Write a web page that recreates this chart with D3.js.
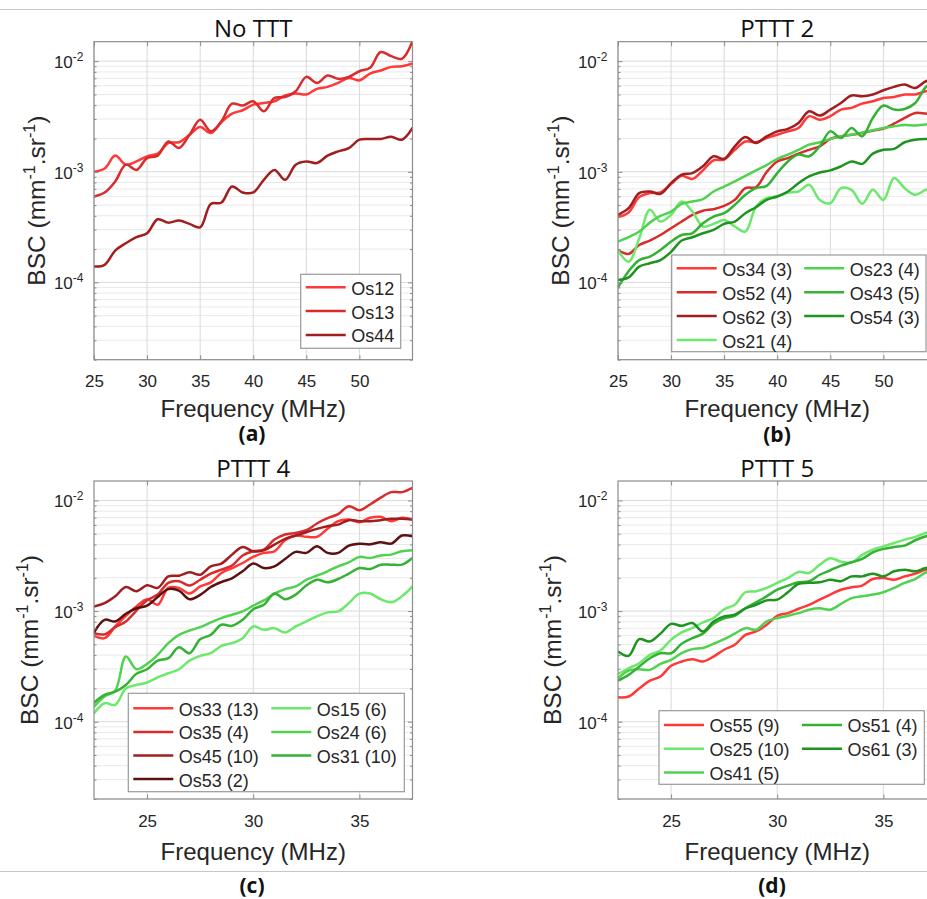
<!DOCTYPE html>
<html><head><meta charset="utf-8">
<script src="https://cdn.jsdelivr.net/npm/d3@7"></script>
<style>body{margin:0;background:#fff;}svg{display:block;}</style>
</head><body><svg id="c" width="927" height="899"></svg>
<script>
// ---------- data ----------
const freqAB = [25,26,27,28,29,30,31,32,33,34,35,36,37,38,39,40,41,42,43,44,45,46,47,48,49,50,51,52,53,54,55];
const freqCD = [22.5,23,23.5,24,24.5,25,25.5,26,26.5,27,27.5,28,28.5,29,29.5,30,30.5,31,31.5,32,32.5,33,33.5,34,34.5,35,35.5,36,36.5,37,37.5];
const xTicksAB = [25,30,35,40,45,50];
const xTicksCD = [25,30,35];
const yTicks = [1e-4,1e-3,1e-2];
const yTickExp = ["-4","-3","-2"];
const titles = ["No TTT","PTTT 2","PTTT 4","PTTT 5"];
const tags = ["(a)","(b)","(c)","(d)"];

// panel (a)
const os12 = [1.00e-3,1.07e-3,1.40e-3,1.16e-3,1.24e-3,1.38e-3,1.46e-3,1.82e-3,1.85e-3,2.16e-3,2.54e-3,2.24e-3,2.80e-3,3.36e-3,3.60e-3,4.05e-3,4.19e-3,4.34e-3,4.89e-3,5.10e-3,5.00e-3,5.62e-3,5.86e-3,6.36e-3,7.06e-3,6.71e-3,7.73e-3,8.23e-3,8.88e-3,9.01e-3,9.53e-3];
const os13 = [5.98e-4,6.49e-4,8.18e-4,1.16e-3,1.04e-3,1.33e-3,1.40e-3,1.88e-3,1.64e-3,2.16e-3,2.96e-3,2.32e-3,2.86e-3,4.13e-3,3.97e-3,4.34e-3,3.52e-3,4.65e-3,4.75e-3,5.35e-3,7.21e-3,6.36e-3,7.41e-3,6.92e-3,7.21e-3,8.11e-3,8.70e-3,1.21e-2,1.11e-2,1.05e-2,1.52e-2];
const os44 = [1.39e-4,1.44e-4,1.94e-4,2.26e-4,2.56e-4,2.78e-4,3.72e-4,3.47e-4,3.62e-4,3.38e-4,3.15e-4,5.12e-4,5.27e-4,7.36e-4,6.50e-4,6.50e-4,8.46e-4,1.04e-3,8.46e-4,1.16e-3,1.24e-3,1.20e-3,1.40e-3,1.53e-3,1.64e-3,1.95e-3,1.98e-3,1.98e-3,2.07e-3,1.95e-3,2.49e-3];

// panel (b)
const os34 = [3.89e-4,4.29e-4,5.90e-4,6.41e-4,6.50e-4,7.74e-4,9.20e-4,8.61e-4,1.03e-3,1.27e-3,1.29e-3,1.58e-3,1.88e-3,1.85e-3,2.02e-3,2.16e-3,2.32e-3,2.49e-3,3.18e-3,2.96e-3,3.18e-3,3.65e-3,3.78e-3,4.13e-3,4.34e-3,4.65e-3,4.75e-3,5.00e-3,5.00e-3,5.35e-3,5.54e-3];
const os52 = [1.96e-4,1.81e-4,2.18e-4,2.39e-4,2.68e-4,3.09e-4,3.55e-4,4.08e-4,4.45e-4,4.59e-4,4.92e-4,5.57e-4,7.11e-4,7.26e-4,9.95e-4,1.24e-3,1.33e-3,1.46e-3,1.58e-3,1.70e-3,1.98e-3,2.09e-3,2.16e-3,2.24e-3,2.35e-3,2.46e-3,2.72e-3,3.07e-3,3.40e-3,3.36e-3,3.30e-3];
const os62 = [4.08e-4,4.69e-4,6.41e-4,6.63e-4,6.32e-4,7.89e-4,9.42e-4,9.73e-4,1.12e-3,1.38e-3,1.31e-3,1.70e-3,2.06e-3,1.82e-3,2.09e-3,2.32e-3,2.44e-3,2.76e-3,3.52e-3,3.22e-3,3.65e-3,4.19e-3,4.89e-3,4.82e-3,5.00e-3,5.46e-3,5.86e-3,6.15e-3,5.73e-3,6.59e-3,6.82e-3];
const os21 = [1.96e-4,1.54e-4,2.50e-4,4.53e-4,3.55e-4,4.08e-4,5.38e-4,4.37e-4,3.20e-4,3.38e-4,3.67e-4,3.20e-4,2.88e-4,4.85e-4,5.77e-4,5.98e-4,6.50e-4,6.63e-4,7.62e-4,5.57e-4,5.20e-4,7.11e-4,6.87e-4,5.13e-4,6.87e-4,5.57e-4,8.77e-4,7.11e-4,6.19e-4,6.87e-4,7.11e-4];
const os23 = [2.34e-4,2.56e-4,2.88e-4,3.47e-4,3.99e-4,4.37e-4,5.13e-4,5.38e-4,5.66e-4,6.63e-4,7.36e-4,8.18e-4,9.20e-4,1.03e-3,1.15e-3,1.31e-3,1.43e-3,1.58e-3,1.76e-3,1.85e-3,1.98e-3,2.09e-3,2.16e-3,2.27e-3,2.37e-3,2.49e-3,2.58e-3,2.65e-3,2.62e-3,2.68e-3,2.74e-3];
const os43 = [9.01e-5,1.26e-4,1.59e-4,1.71e-4,1.96e-4,2.34e-4,2.68e-4,2.78e-4,3.43e-4,3.94e-4,4.22e-4,5.02e-4,6.19e-4,7.11e-4,7.46e-4,9.73e-4,1.24e-3,1.43e-3,1.38e-3,1.70e-3,2.32e-3,2.02e-3,2.49e-3,2.09e-3,3.07e-3,3.97e-3,3.65e-3,3.70e-3,4.19e-3,5.86e-3,6.82e-3];
const os54 = [1.05e-4,1.11e-4,1.39e-4,1.49e-4,1.59e-4,1.89e-4,2.39e-4,2.56e-4,2.78e-4,2.98e-4,3.38e-4,3.55e-4,4.22e-4,4.78e-4,5.57e-4,5.98e-4,6.63e-4,7.89e-4,9.08e-4,9.86e-4,1.03e-3,1.12e-3,1.24e-3,1.18e-3,1.46e-3,1.58e-3,1.61e-3,1.85e-3,1.95e-3,1.98e-3,1.98e-3];

// panel (c)
const os33 = [5.97e-4,5.69e-4,7.26e-4,9.07e-4,1.10e-3,1.28e-3,1.14e-3,1.62e-3,1.62e-3,1.44e-3,1.67e-3,1.82e-3,2.21e-3,2.45e-3,2.72e-3,3.09e-3,3.36e-3,3.47e-3,4.37e-3,4.82e-3,4.69e-3,4.69e-3,5.54e-3,6.50e-3,6.73e-3,6.37e-3,6.97e-3,7.12e-3,6.50e-3,6.97e-3,6.73e-3];
const os35 = [6.32e-4,6.16e-4,7.16e-4,8.06e-4,1.01e-3,1.25e-3,1.41e-3,1.80e-3,1.86e-3,1.70e-3,1.92e-3,2.18e-3,2.37e-3,2.58e-3,3.18e-3,3.47e-3,3.60e-3,4.43e-3,4.92e-3,5.09e-3,5.38e-3,6.19e-3,6.92e-3,7.52e-3,8.88e-3,8.17e-3,9.20e-3,1.06e-2,1.19e-2,1.19e-2,1.30e-2];
const os45 = [1.10e-3,1.18e-3,1.36e-3,1.65e-3,1.51e-3,1.71e-3,1.62e-3,2.06e-3,2.09e-3,2.24e-3,2.13e-3,2.54e-3,2.69e-3,3.24e-3,3.80e-3,3.47e-3,3.55e-3,3.99e-3,4.50e-3,4.82e-3,5.16e-3,5.54e-3,5.85e-3,6.05e-3,6.64e-3,6.50e-3,6.50e-3,6.64e-3,6.82e-3,6.82e-3,6.73e-3];
const os53 = [6.41e-4,8.34e-4,8.06e-4,9.45e-4,1.06e-3,1.12e-3,1.34e-3,1.58e-3,1.53e-3,1.28e-3,1.40e-3,1.65e-3,1.83e-3,1.98e-3,2.29e-3,2.69e-3,2.45e-3,2.54e-3,2.96e-3,3.43e-3,3.36e-3,3.85e-3,3.36e-3,3.36e-3,3.91e-3,4.07e-3,4.01e-3,4.19e-3,4.07e-3,4.82e-3,4.75e-3];
const os15 = [1.19e-4,1.47e-4,1.42e-4,2.00e-4,2.15e-4,2.26e-4,2.52e-4,2.74e-4,2.98e-4,3.57e-4,3.94e-4,4.16e-4,4.85e-4,5.13e-4,5.69e-4,7.26e-4,6.78e-4,7.01e-4,6.41e-4,7.26e-4,8.06e-4,8.95e-4,9.73e-4,9.93e-4,1.18e-3,1.44e-3,1.44e-3,1.28e-3,1.20e-3,1.36e-3,1.67e-3];
const os24 = [1.37e-4,1.69e-4,1.91e-4,3.88e-4,2.98e-4,3.33e-4,4.02e-4,5.13e-4,6.09e-4,6.68e-4,7.16e-4,7.89e-4,8.65e-4,9.27e-4,9.93e-4,1.12e-3,1.25e-3,1.44e-3,1.58e-3,1.67e-3,1.92e-3,2.09e-3,2.29e-3,2.54e-3,2.76e-3,3.09e-3,3.02e-3,3.18e-3,3.24e-3,3.47e-3,3.55e-3];
const os31 = [1.49e-4,1.75e-4,1.87e-4,2.15e-4,2.71e-4,2.98e-4,3.57e-4,3.75e-4,4.72e-4,4.16e-4,5.57e-4,6.09e-4,7.52e-4,7.36e-4,8.34e-4,1.04e-3,1.14e-3,1.44e-3,1.28e-3,1.41e-3,1.70e-3,1.92e-3,1.82e-3,1.95e-3,2.18e-3,2.45e-3,2.40e-3,2.62e-3,2.63e-3,2.63e-3,3.02e-3];

// panel (d)
const os55 = [1.66e-4,1.69e-4,2.00e-4,2.35e-4,2.56e-4,3.20e-4,3.50e-4,3.67e-4,3.50e-4,3.88e-4,4.47e-4,4.96e-4,6.09e-4,6.54e-4,7.52e-4,9.07e-4,9.58e-4,1.05e-3,1.14e-3,1.27e-3,1.41e-3,1.56e-3,1.64e-3,1.70e-3,1.95e-3,1.99e-3,1.92e-3,2.06e-3,2.18e-3,2.37e-3,2.45e-3];
const os25 = [2.70e-4,3.04e-4,3.38e-4,4.02e-4,4.40e-4,5.50e-4,6.41e-4,7.01e-4,7.89e-4,8.65e-4,1.04e-3,1.14e-3,1.48e-3,1.51e-3,1.62e-3,1.80e-3,1.99e-3,2.26e-3,2.21e-3,2.63e-3,3.00e-3,2.80e-3,2.76e-3,3.22e-3,3.60e-3,3.85e-3,4.13e-3,4.43e-3,4.69e-3,5.09e-3,5.38e-3];
const os41 = [2.47e-4,2.90e-4,2.98e-4,2.94e-4,3.33e-4,3.62e-4,4.16e-4,4.53e-4,4.63e-4,5.06e-4,5.57e-4,6.25e-4,7.01e-4,6.78e-4,8.06e-4,8.65e-4,9.07e-4,9.58e-4,1.03e-3,1.06e-3,1.03e-3,1.16e-3,1.31e-3,1.36e-3,1.41e-3,1.48e-3,1.62e-3,1.80e-3,1.95e-3,2.24e-3,2.45e-3];
const os51 = [2.35e-4,2.65e-4,3.15e-4,3.75e-4,4.16e-4,4.16e-4,5.06e-4,5.69e-4,6.25e-4,7.67e-4,8.58e-4,9.07e-4,1.06e-3,1.20e-3,1.36e-3,1.56e-3,1.70e-3,1.82e-3,1.86e-3,2.13e-3,2.34e-3,2.58e-3,2.76e-3,2.96e-3,3.40e-3,3.65e-3,3.80e-3,3.91e-3,4.37e-3,4.75e-3,5.02e-3];
const os61 = [4.31e-4,3.94e-4,5.57e-4,5.31e-4,6.25e-4,7.67e-4,7.36e-4,7.81e-4,6.54e-4,8.06e-4,8.95e-4,9.27e-4,1.06e-3,1.14e-3,1.25e-3,1.27e-3,1.48e-3,1.76e-3,1.80e-3,1.82e-3,1.92e-3,1.86e-3,2.06e-3,2.06e-3,2.18e-3,2.06e-3,2.29e-3,2.37e-3,2.29e-3,2.45e-3,2.49e-3];

// ---------- styles ----------
const C = {red:"#ff3838", med:"#d82b2b", dark:"#a21e1e", darkest:"#5c1111",
           lg:"#6ce86c", mlg:"#50d250", mg:"#34b234", dg:"#1f931f"};
const SANS = "'Liberation Sans', Arial, Helvetica, sans-serif";
const TITLEF = "'Open Sans', 'Noto Sans', sans-serif";
const TXT = "#262626";
const FRAME = "#8c8c8c";
const plotW = 318.5, plotH = 318;
const yDomain = [2e-5, 1.5e-2];

const panels = [
  {left:94, top:41.7, freq:freqAB, xd:[25,55], ticks:xTicksAB, title:titles[0], tag:tags[0], tagX:252, tagY:441,
   ylabDx:-49.5, xlabDy:57,
   series:[["Os12",os12,C.red],["Os13",os13,C.med],["Os44",os44,C.dark]],
   leg:{x:206.7,y:232.6,w:100,h:74,row0:13,rowH:23.8,col2:0,perCol:3}},
  {left:618, top:41.7, freq:freqAB, xd:[25,55], ticks:xTicksAB, title:titles[1], tag:tags[1], tagX:777, tagY:442,
   ylabDx:-49, xlabDy:57,
   series:[["Os34 (3)",os34,C.red],["Os52 (4)",os52,C.med],["Os62 (3)",os62,C.dark],["Os21 (4)",os21,C.lg],
           ["Os23 (4)",os23,C.mlg],["Os43 (5)",os43,C.mg],["Os54 (3)",os54,C.dg]],
   leg:{x:53.7,y:213.3,w:254.3,h:96.7,row0:13.3,rowH:23.9,col2:127.5,perCol:4}},
  {left:94, top:481, freq:freqCD, xd:[22.5,37.5], ticks:xTicksCD, title:titles[2], tag:tags[2], tagX:252, tagY:893,
   ylabDx:-56.5, xlabDy:61,
   series:[["Os33 (13)",os33,C.red],["Os35 (4)",os35,C.med],["Os45 (10)",os45,C.dark],["Os53 (2)",os53,C.darkest],
           ["Os15 (6)",os15,C.lg],["Os24 (6)",os24,C.mlg],["Os31 (10)",os31,C.mg]],
   leg:{x:34.3,y:212.3,w:276,h:98.4,row0:15,rowH:23.6,col2:138,perCol:4}},
  {left:618, top:481, freq:freqCD, xd:[22.5,37.5], ticks:xTicksCD, title:titles[3], tag:tags[3], tagX:772, tagY:893,
   ylabDx:-57, xlabDy:61,
   series:[["Os55 (9)",os55,C.red],["Os25 (10)",os25,C.lg],["Os41 (5)",os41,C.mlg],
           ["Os51 (4)",os51,C.mg],["Os61 (3)",os61,C.dg]],
   leg:{x:41,y:229.7,w:265.3,h:73.6,row0:14.3,rowH:23.7,col2:138,perCol:3}}
];

const svg = d3.select("#c");
svg.append("rect").attr("width",927).attr("height",899).attr("fill","#fff");

// separator rules
[9.5, 871.5].forEach(yy => svg.append("line").attr("x1",0).attr("x2",927).attr("y1",yy).attr("y2",yy)
  .attr("stroke","#c6c6c6").attr("stroke-width",1.2));

const minorVals = [];
for (let e=-5;e<=-2;e++) for (let k=2;k<=9;k++){ const v=k*Math.pow(10,e); if (v>yDomain[0]*0.999 && v<=yDomain[1]) minorVals.push(v); }

panels.forEach((p,i) => {
  const g = svg.append("g").attr("transform",`translate(${p.left},${p.top})`);
  const x = d3.scaleLinear().domain(p.xd).range([0,plotW]);
  const y = d3.scaleLog().domain(yDomain).range([plotH,0]);

  g.append("rect").attr("width",plotW).attr("height",plotH).attr("fill","#fff");
  // grids
  g.append("g").selectAll("line").data(minorVals).join("line")
    .attr("x1",0).attr("x2",plotW).attr("y1",d=>y(d)).attr("y2",d=>y(d))
    .attr("stroke","#e9e9e9").attr("stroke-width",1);
  g.append("g").selectAll("line").data(yTicks).join("line")
    .attr("x1",0).attr("x2",plotW).attr("y1",d=>y(d)).attr("y2",d=>y(d))
    .attr("stroke","#dadada").attr("stroke-width",1);
  g.append("g").selectAll("line").data(p.ticks).join("line")
    .attr("x1",d=>x(d)).attr("x2",d=>x(d)).attr("y1",0).attr("y2",plotH)
    .attr("stroke","#dadada").attr("stroke-width",1);

  // clip
  const cid = "clip"+i;
  g.append("clipPath").attr("id",cid).append("rect").attr("width",plotW).attr("height",plotH);

  const line = d3.line().x((d,j)=>x(p.freq[j])).y(d=>y(d)).curve(d3.curveCatmullRom.alpha(0.5));
  const lg = g.append("g").attr("clip-path",`url(#${cid})`);
  p.series.forEach(s => {
    lg.append("path").attr("d", line(s[1])).attr("fill","none").attr("stroke",s[2])
      .attr("stroke-width",2.5).attr("stroke-linejoin","round").attr("stroke-linecap","round");
  });

  // axes (ticks inward on all sides)
  const axB = d3.axisBottom(x).tickValues(p.ticks).tickSizeInner(-4.5).tickSizeOuter(0);
  const axT = d3.axisTop(x).tickValues(p.ticks).tickSizeInner(-4.5).tickSizeOuter(0).tickFormat("");
  const axL = d3.axisLeft(y).tickValues(yTicks).tickSizeInner(-4.5).tickSizeOuter(0).tickFormat("");
  const axR = d3.axisRight(y).tickValues(yTicks).tickSizeInner(-4.5).tickSizeOuter(0).tickFormat("");
  const axLm = d3.axisLeft(y).tickValues(minorVals).tickSizeInner(-2.5).tickSizeOuter(0).tickFormat("");
  const axRm = d3.axisRight(y).tickValues(minorVals).tickSizeInner(-2.5).tickSizeOuter(0).tickFormat("");
  const gb = g.append("g").attr("transform",`translate(0,${plotH})`).call(axB);
  g.append("g").call(axT);
  g.append("g").call(axL);
  g.append("g").attr("transform",`translate(${plotW},0)`).call(axR);
  g.append("g").call(axLm);
  g.append("g").attr("transform",`translate(${plotW},0)`).call(axRm);
  g.selectAll(".domain").remove();
  g.selectAll(".tick line").attr("stroke",FRAME);
  gb.selectAll("text").attr("y",27.5).attr("dy",null)
    .style("font-family",SANS).style("font-size","17px").attr("fill",TXT);

  // y tick labels with superscripts
  yTicks.forEach((v,k) => {
    const t = g.append("text").attr("x",-10.5).attr("y",y(v)+7).attr("text-anchor","end")
      .style("font-family",SANS).style("font-size","17px").attr("fill",TXT);
    t.append("tspan").text("10");
    t.append("tspan").attr("dy",-7).style("font-size","12px").text(yTickExp[k]);
  });

  // frame
  g.append("rect").attr("width",plotW).attr("height",plotH).attr("fill","none")
    .attr("stroke",FRAME).attr("stroke-width",1.2);

  // title
  g.append("text").attr("x",plotW/2).attr("y",-4.5).attr("text-anchor","middle")
    .style("font-family",TITLEF).style("font-size","24px").attr("fill","#111").text(p.title);

  // axis labels
  g.append("text").attr("x",plotW/2).attr("y",plotH+p.xlabDy).attr("text-anchor","middle")
    .style("font-family",SANS).style("font-size","24px").attr("fill",TXT).text("Frequency (MHz)");
  const yl = g.append("text").attr("transform",`translate(${p.ylabDx},${plotH/2}) rotate(-90)`)
    .attr("text-anchor","middle").style("font-family",SANS).style("font-size","24.5px").attr("fill",TXT);
  yl.append("tspan").text("BSC (mm");
  yl.append("tspan").attr("dy",-10).style("font-size","16px").text("-1");
  yl.append("tspan").attr("dy",10).text(".sr");
  yl.append("tspan").attr("dy",-10).style("font-size","16px").text("-1");
  yl.append("tspan").attr("dy",10).text(")");

  // legend
  const L = p.leg;
  const lgd = g.append("g").attr("transform",`translate(${L.x},${L.y})`);
  lgd.append("rect").attr("width",L.w).attr("height",L.h).attr("fill","#fff")
    .attr("stroke","#999").attr("stroke-width",1.2);
  p.series.forEach((s,j) => {
    const col = Math.floor(j / L.perCol), row = j % L.perCol;
    const cx = col ? L.col2 : 0;
    const ry = L.row0 + row*L.rowH;
    lgd.append("line").attr("x1",cx+5).attr("x2",cx+45).attr("y1",ry).attr("y2",ry)
      .attr("stroke",s[2]).attr("stroke-width",2.5);
    lgd.append("text").attr("x",cx+50.5).attr("y",ry+7.5)
      .style("font-family",SANS).style("font-size","18px").attr("fill",TXT).text(s[0]);
  });

  // panel tag
  svg.append("text").attr("x",p.tagX).attr("y",p.tagY).attr("text-anchor","middle")
    .style("font-family",TITLEF).style("font-weight","bold").style("font-size","21px").attr("fill","#111").text(p.tag);
});
</script>
</body></html>
